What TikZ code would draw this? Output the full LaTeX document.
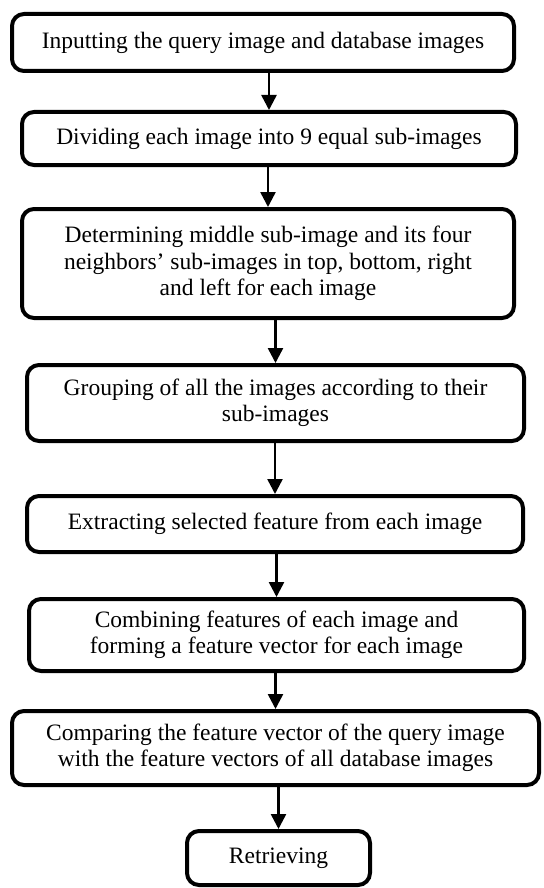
\documentclass[tikz,border=0pt]{standalone}
\usepackage{fontspec}
\setmainfont{Liberation Serif}
\usetikzlibrary{arrows.meta}
\begin{document}
\begin{tikzpicture}[x=1pt,y=-1pt,
  box/.style={draw=black, fill=white, line width=4pt, rounded corners=12pt, align=center, inner sep=0pt,
    font=\fontsize{23.5}{26.5}\selectfont},
  arr/.style={line width=2.5pt, -{Triangle[length=15pt,width=15pt]}}]
\useasboundingbox (0,0) rectangle (543,888);
\node[box, minimum width=502pt, minimum height=57pt] (b1) at (263,42.5)
  {Inputting the query image and database images};
\node[box, minimum width=494pt, minimum height=53pt] (b2) at (269,138.5)
  {Dividing each image into 9 equal sub-images};
\node[box, minimum width=492pt, minimum height=109pt] (b3) at (268,263.5)
  {Determining middle sub-image and its four\\neighbors' sub-images in top, bottom, right\\and left for each image};
\node[box, minimum width=497pt, minimum height=76pt] (b4) at (275.5,403)
  {Grouping of all the images according to their\\sub-images};
\node[box, minimum width=496pt, minimum height=56pt] (b5) at (275,524)
  {Extracting selected feature from each image};
\node[box, minimum width=495pt, minimum height=72pt] (b6) at (276.5,635)
  {Combining features of each image and\\forming a feature vector for each image};
\node[box, minimum width=527pt, minimum height=74pt] (b7) at (275.5,748)
  {Comparing the feature vector of the query image\\with the feature vectors of all database images};
\node[box, minimum width=183pt, minimum height=54pt] (b8) at (278.5,858)
  {Retrieving};
\draw[arr] (b1.south -| b2.north) -- (b2.north);
\draw[arr] (b2.south -| b3.north) -- (b3.north);
\draw[arr] (b3.south -| b4.north) -- (b4.north);
\draw[arr] (b4.south -| b5.north) -- (b5.north);
\draw[arr] (b5.south -| b6.north) -- (b6.north);
\draw[arr] (b6.south -| b7.north) -- (b7.north);
\draw[arr] (b7.south -| b8.north) -- (b8.north);
\end{tikzpicture}
\end{document}
